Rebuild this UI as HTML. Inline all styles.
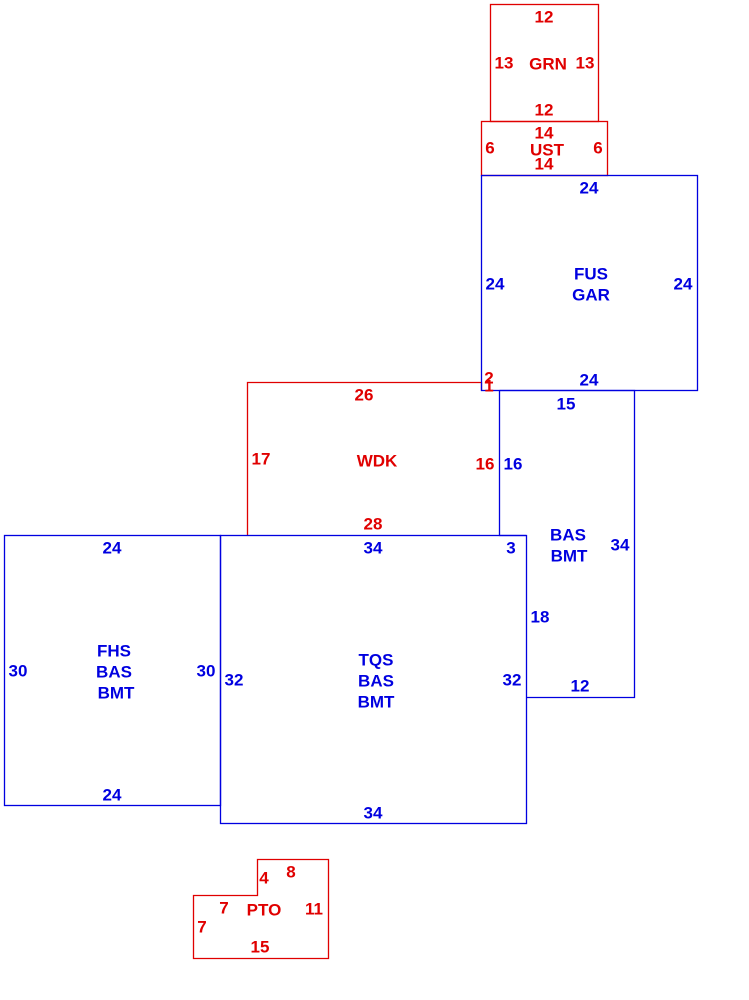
<!DOCTYPE html>
<html><head><style>body{margin:0;background:#fff}svg{display:block}text{font-family:"Liberation Sans",Arial,sans-serif;font-weight:bold;font-size:17px;text-anchor:middle;dominant-baseline:central}.r{fill:#e00000}.b{fill:#0000e0}</style></head><body>
<svg width="749" height="1000" viewBox="0 0 749 1000">
<g fill="none" stroke-width="1.3">
<rect x="490.5" y="4.5" width="108" height="117" stroke="#e00000"/>
<rect x="481.5" y="121.5" width="126" height="54" stroke="#e00000"/>
<polyline points="247.5,535 247.5,382.5 481.5,382.5 481.5,390.5" stroke="#e00000"/>
<rect x="481.5" y="175.5" width="216" height="215" stroke="#0000e0"/>
<polyline points="499.5,390.5 499.5,535.5 526,535.5" stroke="#0000e0"/>
<polyline points="499.5,390.5 634.5,390.5 634.5,697.5 526.5,697.5" stroke="#0000e0"/>
<rect x="220.5" y="535.5" width="306" height="288" stroke="#0000e0"/>
<rect x="4.5" y="535.5" width="216" height="270" stroke="#0000e0"/>
<polygon points="257.5,859.5 328.5,859.5 328.5,958.5 193.5,958.5 193.5,895.5 257.5,895.5" stroke="#e00000"/>
</g>
<g class="r">
<text x="544" y="17">12</text><text x="504" y="63">13</text><text x="548" y="64">GRN</text><text x="585" y="63">13</text><text x="544" y="110">12</text>
<text x="544" y="133">14</text><text x="490" y="148">6</text><text x="547" y="150">UST</text><text x="598" y="148">6</text><text x="544" y="164">14</text>
<text x="489" y="378">2</text><text x="489" y="386">1</text>
<text x="364" y="395">26</text><text x="261" y="459">17</text><text x="377" y="461">WDK</text><text x="485" y="464">16</text><text x="373" y="524">28</text>
<text x="291" y="872">8</text><text x="264" y="878">4</text><text x="224" y="908">7</text><text x="264" y="910">PTO</text><text x="314" y="909">11</text><text x="202" y="927">7</text><text x="260" y="947">15</text>
</g>
<g class="b">
<text x="589" y="188">24</text><text x="495" y="284">24</text><text x="591" y="274">FUS</text><text x="591" y="295">GAR</text><text x="683" y="284">24</text><text x="589" y="380">24</text>
<text x="566" y="404">15</text><text x="513" y="464">16</text><text x="568" y="535">BAS</text><text x="569" y="556">BMT</text><text x="620" y="545">34</text><text x="540" y="617">18</text><text x="580" y="686">12</text>
<text x="373" y="548">34</text><text x="511" y="548">3</text><text x="376" y="660">TQS</text><text x="376" y="681">BAS</text><text x="376" y="702">BMT</text><text x="234" y="680">32</text><text x="512" y="680">32</text><text x="373" y="813">34</text>
<text x="112" y="548">24</text><text x="18" y="671">30</text><text x="114" y="651">FHS</text><text x="114" y="672">BAS</text><text x="116" y="693">BMT</text><text x="206" y="671">30</text><text x="112" y="795">24</text>
</g>
</svg></body></html>
